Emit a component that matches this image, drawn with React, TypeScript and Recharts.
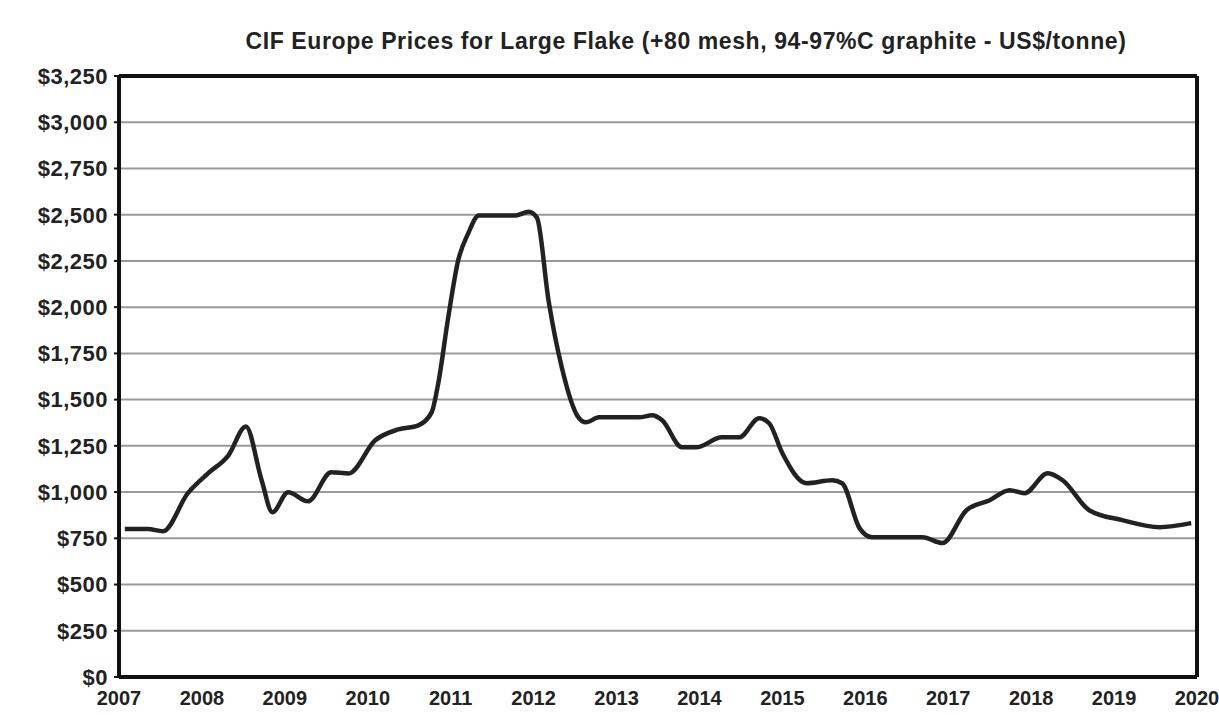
import React from "react";
import { LineChart, Line, XAxis, YAxis, CartesianGrid, ReferenceLine } from "recharts";

const years: number[] = [
  2007.07, 2007.35, 2007.53, 2007.83, 2008.07, 2008.32, 2008.53, 2008.72, 2008.85, 2009.04,
  2009.28, 2009.56, 2009.77, 2010.09, 2010.37, 2010.61, 2010.77, 2010.85, 2010.97, 2011.09,
  2011.21, 2011.34, 2011.54, 2011.78, 2011.94, 2012.04, 2012.18, 2012.34, 2012.54, 2012.63,
  2012.79, 2013.27, 2013.43, 2013.55, 2013.79, 2013.96, 2014.27, 2014.48, 2014.72, 2014.84,
  2015.0, 2015.29, 2015.6, 2015.72, 2015.93, 2016.08, 2016.69, 2016.93, 2017.22, 2017.5,
  2017.74, 2017.92, 2018.2, 2018.38, 2018.7, 2019.1, 2019.55, 2019.93,
];

const prices: number[] = [
  800, 800, 788, 994, 1100, 1199, 1355, 1064, 891, 999,
  950, 1107, 1101, 1280, 1339, 1361, 1431, 1588, 1944, 2252,
  2398, 2495, 2495, 2495, 2516, 2484, 2036, 1674, 1404, 1377,
  1404, 1404, 1415, 1388, 1242, 1242, 1296, 1296, 1399, 1372,
  1210, 1048, 1064, 1048, 805, 756, 756, 724, 902, 956,
  1010, 994, 1102, 1064, 902, 848, 810, 832,
];

const xTicks: number[] = [2007, 2008, 2009, 2010, 2011, 2012, 2013, 2014, 2015, 2016, 2017, 2018, 2019, 2020];
const yTicks: number[] = [0, 250, 500, 750, 1000, 1250, 1500, 1750, 2000, 2250, 2500, 2750, 3000, 3250];

const titleText = "CIF Europe Prices for Large Flake (+80 mesh, 94-97%C graphite - US$/tonne)";

const data = years.map((y, i) => ({ year: y, price: prices[i] }));

const fmtMoney = (v: number) => "$" + v.toLocaleString("en-US");

const font = "'Liberation Sans', Arial, sans-serif";

export default function App() {
  return (
    <div style={{ position: "absolute", left: 0, top: 0, width: 1219, height: 715, background: "#fff" }}>
      <div
        style={{
          position: "absolute",
          left: 0,
          top: 27,
          width: 1372,
          textAlign: "center",
          fontFamily: font,
          fontWeight: "bold",
          fontSize: 23,
          letterSpacing: 0.6,
          color: "#222",
          lineHeight: "28px",
        }}
      >
        {titleText}
      </div>
      <LineChart
        width={1219}
        height={715}
        data={data}
        margin={{ top: 76, right: 22, bottom: 8, left: 8 }}
      >
        <CartesianGrid horizontal={true} vertical={false} stroke="#999" strokeWidth={2} />
        <XAxis
          dataKey="year"
          type="number"
          domain={[2007, 2020]}
          ticks={xTicks}
          allowDataOverflow
          height={30}
          tickLine={false}
          axisLine={{ stroke: "#111", strokeWidth: 4 }}
          tick={{ fill: "#222", fontSize: 20, fontWeight: "bold", fontFamily: font }}
          tickMargin={8}
        />
        <YAxis
          type="number"
          domain={[0, 3250]}
          ticks={yTicks}
          interval={0}
          width={111}
          tickFormatter={fmtMoney}
          axisLine={{ stroke: "#111", strokeWidth: 4 }}
          tickLine={{ stroke: "#111", strokeWidth: 2 }}
          tickSize={5}
          tick={{ fill: "#222", fontSize: 22, fontWeight: "bold", fontFamily: font, letterSpacing: 0.5 }}
          tickMargin={6}
        />
        <ReferenceLine y={3250} stroke="#111" strokeWidth={4} ifOverflow="visible" />
        <ReferenceLine x={2020} stroke="#111" strokeWidth={4} ifOverflow="visible" />
        <Line
          type="monotone"
          dataKey="price"
          stroke="#222"
          strokeWidth={4.5}
          dot={false}
          isAnimationActive={false}
        />
      </LineChart>
    </div>
  );
}
